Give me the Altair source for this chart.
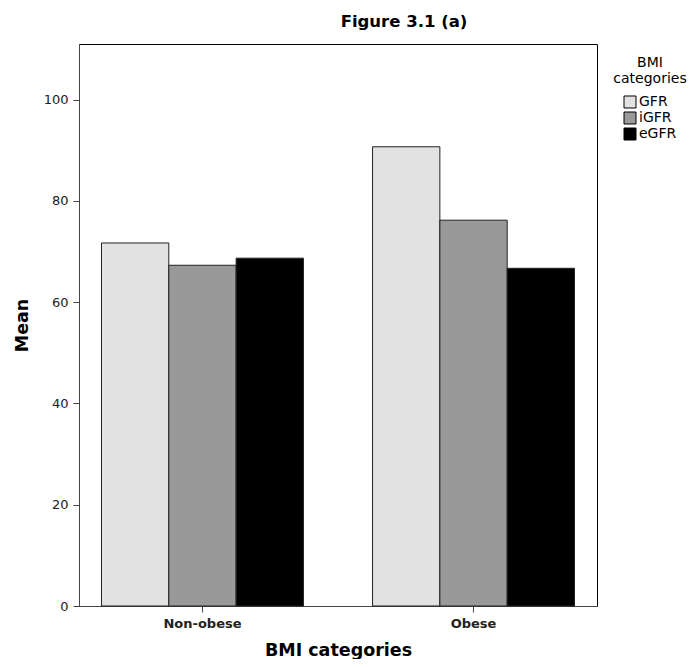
import altair as alt
import pandas as pd

categories = ["Non-obese", "Obese"]
series = ["GFR", "iGFR", "eGFR"]
nonobese_vals = [71.7, 67.3, 68.7]
obese_vals = [90.7, 76.2, 66.7]
y_ticks = [0, 20, 40, 60, 80, 100]
colors = ["#e2e2e2", "#999999", "#000000"]

rows = []
for s, v in zip(series, nonobese_vals):
    rows.append({"cat": categories[0], "series": s, "value": v})
for s, v in zip(series, obese_vals):
    rows.append({"cat": categories[1], "series": s, "value": v})
df = pd.DataFrame(rows)

font = "DejaVu Sans"

chart = alt.Chart(df).mark_bar(stroke="#222222", strokeWidth=1).encode(
    x=alt.X("cat:N", sort=categories,
            scale=alt.Scale(paddingInner=0.255, paddingOuter=0.083),
            axis=alt.Axis(title="BMI categories", labelAngle=0, labelFontWeight="bold",
                          labelFontSize=13, titleFontSize=17.5, titleFontWeight="bold",
                          titlePadding=11, tickSize=6, labelPadding=5)),
    xOffset=alt.XOffset("series:N", sort=series),
    y=alt.Y("value:Q", scale=alt.Scale(domain=[0, 111], nice=False),
            axis=alt.Axis(title="Mean", values=y_ticks, grid=False, labelFontSize=13,
                          titleFontSize=17.5, titleFontWeight="bold", titlePadding=12,
                          tickSize=6, labelPadding=5)),
    fill=alt.Fill("series:N", sort=series,
                  scale=alt.Scale(domain=series, range=colors),
                  legend=alt.Legend(title=["BMI", "categories"], orient="none",
                                    legendX=534, legendY=12,
                                    titleAlign="center", titleAnchor="middle",
                                    titleFontSize=14, titleFontWeight="normal",
                                    titleLineHeight=16, titlePadding=9,
                                    labelFontSize=14, symbolType="square",
                                    symbolSize=144, symbolStrokeColor="#000000",
                                    symbolStrokeWidth=1, rowPadding=0,
                                    labelOffset=2)),
).properties(
    width=518, height=562,
    padding={"left": 5, "top": 5, "right": 0, "bottom": 0},
    title=alt.TitleParams("Figure 3.1 (a)", fontSize=16.5, fontWeight="bold", dx=66,
                          font=font, offset=14),
).configure_view(
    stroke="#000000", strokeWidth=1
).configure_axis(
    domainColor="#444444", tickColor="#444444", labelColor="#222222",
    titleColor="#000000", labelFont=font, titleFont=font
).configure_legend(
    labelFont=font, titleFont=font, labelColor="#000000", titleColor="#000000"
)

chart.save("out.html", embed_options={"renderer": "svg", "actions": False})
